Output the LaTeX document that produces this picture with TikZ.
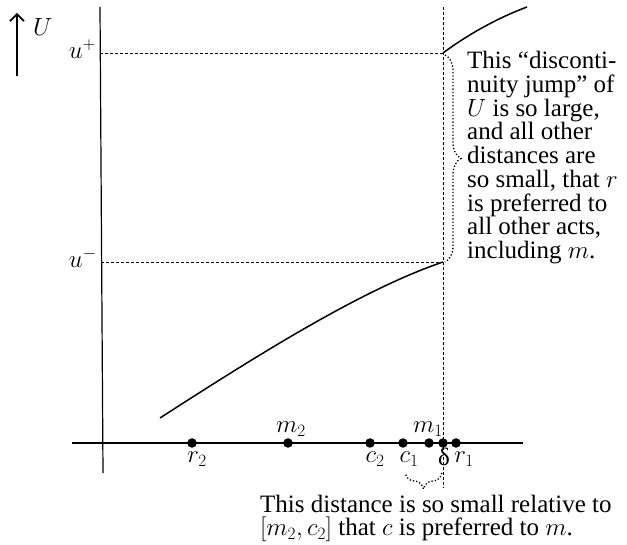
\documentclass[tikz,border=0pt]{standalone}
\usepackage{fontspec}
\setmainfont{Liberation Serif}
\usetikzlibrary{decorations.pathreplacing,arrows.meta}
\begin{document}
\begin{tikzpicture}[x=1pt,y=-1pt,
  dot/.style={circle,fill=black,inner sep=0pt,minimum size=9.5pt},
  lbl/.style={font=\fontsize{25}{27}\selectfont, inner sep=0pt},
  guide/.style={line width=0.8pt, dash pattern=on 3pt off 2pt},
  curve/.style={line width=1.5pt},
  dbrace/.style={decorate, decoration={brace, amplitude=16pt}, dotted, line width=1.3pt},
  note/.style={font=\fontsize{25}{23.75}\selectfont, align=left, inner sep=0pt, anchor=north west}]
\useasboundingbox (0,0) rectangle (627,545);
% axes
\coordinate (ytop) at (100,7);
\coordinate (ybot) at (103,473);
\coordinate (xl) at (72,443);
\coordinate (xr) at (523,443);
\draw[line width=1.2pt] (ytop) -- (ybot);
\draw[line width=2pt] (xl) -- (xr);
% U arrow
\coordinate (abot) at (17,76);
\coordinate (atop) at (17,13);
\draw[line width=1.6pt, -{Straight Barb[length=7pt,width=14pt]}] (abot) -- (atop);
\node[lbl, anchor=base west] (Ulab) at (33,36) {$U$};
% guides
\coordinate (vtop) at (443,7);
\coordinate (vbot) at (443,488);
\coordinate (up) at (443,53);
\coordinate (um) at (443,262);
\coordinate (aup) at (100.3,53);
\coordinate (aum) at (101.4,262);
\draw[guide] (vtop) -- (vbot);
\draw[guide] (aup) -- (up);
\draw[guide] (aum) -- (um);
\node[lbl, anchor=base east] (uplab) at (96,59) {$u^{+}$};
\node[lbl, anchor=base east] (umlab) at (97,268) {$u^{-}$};
% curves
\coordinate (c0) at (160,418);
\coordinate (c3) at (527,7);
\draw[curve] (c0) .. controls (250,360) and (360,290) .. (um);
\draw[curve] (up) .. controls (470,33) and (500,17) .. (c3);
% points
\node[dot] (r2) at (192,443) {};
\node[dot] (m2) at (288,443) {};
\node[dot] (c2) at (370,443) {};
\node[dot] (c1) at (403,443) {};
\node[dot] (m1) at (429,443) {};
\node[dot] (d) at (443,443) {};
\node[dot] (r1) at (456,443) {};
\node[lbl, anchor=base] (r2l) at (197,463) {$r_2$};
\node[lbl, anchor=base] (m2l) at (291,433) {$m_2$};
\node[lbl, anchor=base] (c2l) at (375,463) {$c_2$};
\node[lbl, anchor=base] (c1l) at (409,463) {$c_1$};
\node[lbl, anchor=base] (m1l) at (428,433) {$m_1$};
\node[lbl, anchor=base] (dl) at (444,465) {δ};
\node[lbl, anchor=base] (r1l) at (464,463) {$r_1$};
% braces
\coordinate (bt) at (445,55);
\coordinate (bb) at (445,262);
\draw[dbrace] (bt) -- (bb);
\coordinate (bl) at (405,473);
\coordinate (br) at (442,473);
\draw[dbrace] (br) -- (bl);
% notes
\node[note] (n1) at (467,51) {This “disconti-\\nuity jump” of\\$U$ is so large,\\and all other\\distances are\\so small, that $r$\\is preferred to\\all other acts,\\including $m$.};
\node[note, font=\fontsize{25}{23}\selectfont] (n2) at (260,495) {This distance is so small relative to\\$[m_2,c_2]$ that $c$ is preferred to $m$.};
\end{tikzpicture}
\end{document}
